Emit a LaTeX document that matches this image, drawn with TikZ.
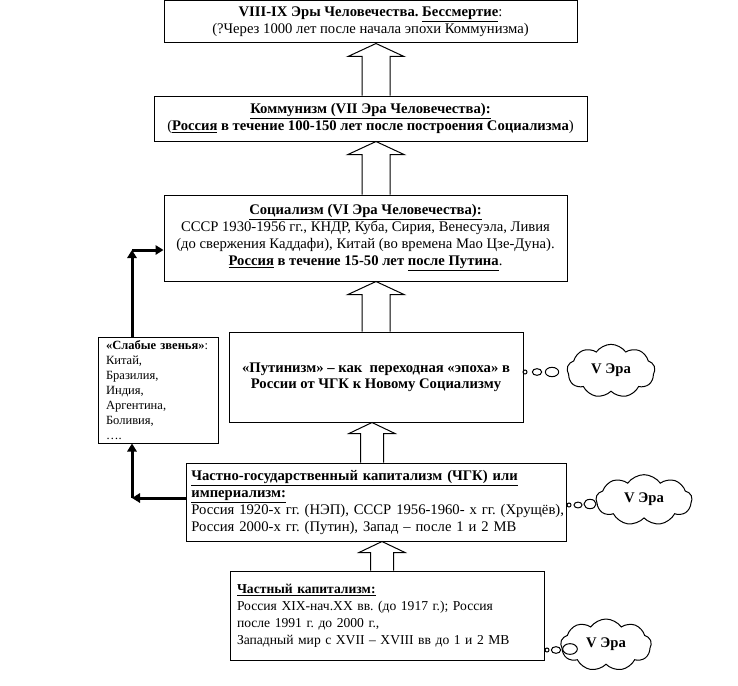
\documentclass[tikz,border=0pt]{standalone}
\usepackage{fontspec}
\setmainfont{Liberation Serif}
\frenchspacing
\usetikzlibrary{calc,arrows.meta,shapes.symbols}
\tikzset{
  box/.style={draw, line width=0.75pt, rectangle, inner xsep=5pt, inner ysep=1pt, font=\fontsize{11}{12.75}\selectfont, align=center},
  lbox/.style={box, align=left},
  blk/.style={line width=0.75pt, line join=miter},
  thk/.style={line width=2.25pt, -{Triangle[length=6pt,width=7pt]}},
  thought/.style={cloud, draw, line width=0.75pt, cloud puffs=9, cloud puff arc=110, aspect=1.7, inner sep=0pt, font=\fontsize{11}{13}\selectfont\bfseries},
  bub/.style={line width=0.75pt}
}
\newcommand\blkarr[6]{%
\draw[blk] let \p1=(#1.north), \p2=(#2.south) in
 ({(#3-#5)*0.75pt},\y1) -- ({(#3-#5)*0.75pt},{\y2-#6*0.75pt}) -- ({(#3-#4)*0.75pt},{\y2-#6*0.75pt}) -- ({#3*0.75pt},\y2) -- ({(#3+#4)*0.75pt},{\y2-#6*0.75pt}) -- ({(#3+#5)*0.75pt},{\y2-#6*0.75pt}) -- ({(#3+#5)*0.75pt},\y1);}
\newcommand\vera{\raisebox{3pt}{V Эра}\hspace{7pt}}
\begin{document}
\begin{tikzpicture}[x=0.75pt,y=-0.75pt]
\useasboundingbox (0,0) rectangle (738,685);
\node[box, minimum width=309.75pt, minimum height=31.5pt] (b1) at (370.5,22)
 {\textbf{VIII-IX Эры Человечества. \underline{Бессмертие}}:\\(?Через 1000 лет после начала эпохи Коммунизма)};
\node[box, minimum width=324.75pt, minimum height=33.75pt] (b2) at (370.5,118.5)
 {\textbf{\underline{Коммунизм (VII Эра Человечества):}}\\(\textbf{\underline{Россия} в течение 100-150 лет после построения Социализма})};
\node[box, minimum width=302.25pt, minimum height=64.5pt] (b3) at (365.5,238)
 {\textbf{\underline{Социализм (VI Эра Человечества):}}\\СССР 1930-1956 гг., КНДР, Куба, Сирия, Венесуэла, Ливия\\(до свержения Каддафи), Китай (во времена Мао Цзе-Дуна).\\\textbf{\underline{Россия} в течение 15-50 лет \underline{после Путина}}.};
\node[box, minimum width=220.5pt, minimum height=67.5pt, font=\fontsize{11}{12.3}\selectfont\bfseries] (b4) at (376,377)
 {«Путинизм» – как\ \ переходная «эпоха» в\\России от ЧГК к Новому Социализму};
\node[lbox, inner xsep=4pt, text width=277pt, minimum width=285pt, minimum height=58.5pt] (b5) at (376,502)
 {\mbox{\textbf{\underline{Частно-государственный капитализм (ЧГК) или}}}\\\textbf{\underline{империализм:}}\\\mbox{Россия 1920-х гг. (НЭП), СССР 1956-1960- х гг. (Хрущёв),}\\\mbox{Россия 2000-х гг. (Путин), Запад – после 1 и 2 МВ}};
\node[lbox, inner xsep=5.25pt, text width=225pt, minimum width=235.5pt, minimum height=66.75pt, font=\fontsize{10.2}{12.75}\selectfont] (b6) at (387,615.5)
 {\textbf{\underline{Частный капитализм:}}\\\mbox{Россия XIX-нач.XX вв. (до 1917 г.); Россия}\\после 1991 г. до 2000 г.,\\\mbox{Западный мир с XVII – XVIII вв до 1 и 2 МВ}};
\node[lbox, inner xsep=6pt, text width=78pt, minimum width=90pt, minimum height=79.5pt, font=\fontsize{9.4}{11.2}\selectfont] (lb) at (158,390)
 {\mbox{\textbf{«Слабые звенья»}:}\\Китай,\\Бразилия,\\Индия,\\Аргентина,\\Боливия,\\ \dots.};
\blkarr{b2}{b1}{376}{28}{14}{13}
\blkarr{b3}{b2}{376}{28}{14}{13}
\blkarr{b4}{b3}{376}{28}{14}{13}
\blkarr{b5}{b4}{372}{23}{11.5}{11}
\blkarr{b6}{b5}{382}{23}{11.5}{11}
\coordinate (c1) at (132,250);
\coordinate (c2) at (132,498);
\draw[thk] (c1 |- lb.north) -- (c1);
\draw[thk] (c1) -- (c1 -| b3.west);
\draw[thk] (c2 -| b5.west) -- (c2);
\draw[thk] (c2) -- (c2 |- lb.south);
\node[thought, minimum width=66pt, minimum height=40pt] (k1) at (611,371) {\vera};
\node[thought, minimum width=72pt, minimum height=38pt] (k2) at (644,500) {\vera};
\node[thought, minimum width=68pt, minimum height=39pt] (k3) at (606,645) {\vera};
\draw[bub] (525,372) circle[radius=1.5pt] (537,372) ellipse[x radius=3.5pt, y radius=2.5pt] (552,372) ellipse[x radius=5pt, y radius=3.5pt];
\draw[bub] (569,505) circle[radius=1.5pt] (578,505) ellipse[x radius=3pt, y radius=2.2pt] (590,504) ellipse[x radius=4.5pt, y radius=3.5pt];
\draw[bub] (547,650) circle[radius=1.5pt] (556,650) ellipse[x radius=3.5pt, y radius=2.5pt] (570,649) ellipse[x radius=5.5pt, y radius=4pt];
\end{tikzpicture}
\end{document}
